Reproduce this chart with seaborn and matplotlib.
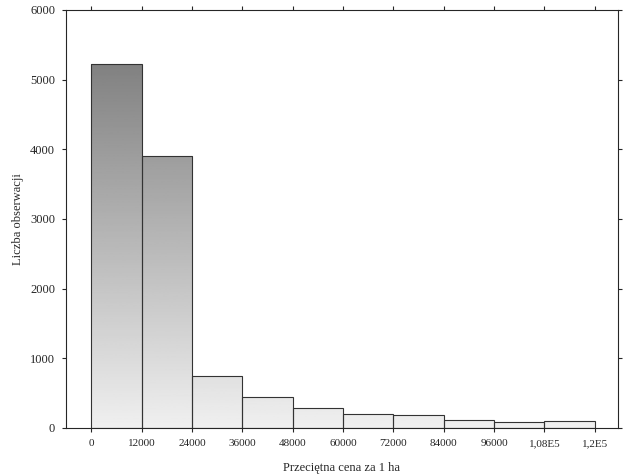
import matplotlib
matplotlib.use("Agg")
import matplotlib.pyplot as plt
import numpy as np
import pandas as pd
import seaborn as sns

# dane
bin_edges = [0, 12000, 24000, 36000, 48000, 60000, 72000, 84000, 96000, 108000, 120000]
counts = [5230, 3900, 740, 450, 280, 200, 185, 120, 85, 100]
tick_vals = [0, 12000, 24000, 36000, 48000, 60000, 72000, 84000, 96000, 108000, 120000]
tick_labels = ["0", "12000", "24000", "36000", "48000", "60000", "72000", "84000", "96000", "1,08E5", "1,2E5"]

sns.set_style("ticks")
plt.rcParams["font.family"] = ["Liberation Serif", "DejaVu Serif"]

df = pd.DataFrame({
    "center": [(a + b) / 2 for a, b in zip(bin_edges[:-1], bin_edges[1:])],
    "count": counts,
})

fig, ax = plt.subplots(figsize=(6.24, 4.76), dpi=100)
fig.subplots_adjust(left=0.106, right=0.99, top=0.979, bottom=0.101)
sns.histplot(data=df, x="center", weights="count", bins=bin_edges, ax=ax,
             color="#eeeeee", edgecolor="#333333", linewidth=0.8, alpha=1)

# gradient wypełnienia (ciemny u góry, jasny u dołu)
grad = np.linspace(0.94, 0.5, 256).reshape(-1, 1)
for p in ax.patches:
    im = ax.imshow(grad, cmap="gray", vmin=0, vmax=1, aspect="auto",
                   extent=(-6000, 125500, 0, 5300), origin="lower", zorder=1.5)
    im.set_clip_path(p)
    p.set_zorder(2)
    p.set_facecolor("none")
ax.set_xlim(-6000, 125500)
ax.set_ylim(0, 6000)

ax.set_xticks(tick_vals)
ax.set_xticklabels(tick_labels, fontsize=8)
ax.set_yticks(range(0, 6001, 1000))
ax.tick_params(axis="y", labelsize=9)
ax.tick_params(top=True, right=True, direction="out", length=3, pad=5)
ax.set_xlabel("Przeciętna cena za 1 ha", fontsize=9, labelpad=10)
ax.set_ylabel("Liczba obserwacji", fontsize=9)
for s in ax.spines.values():
    s.set_linewidth(0.8)

fig.savefig("out.png", dpi=100)
